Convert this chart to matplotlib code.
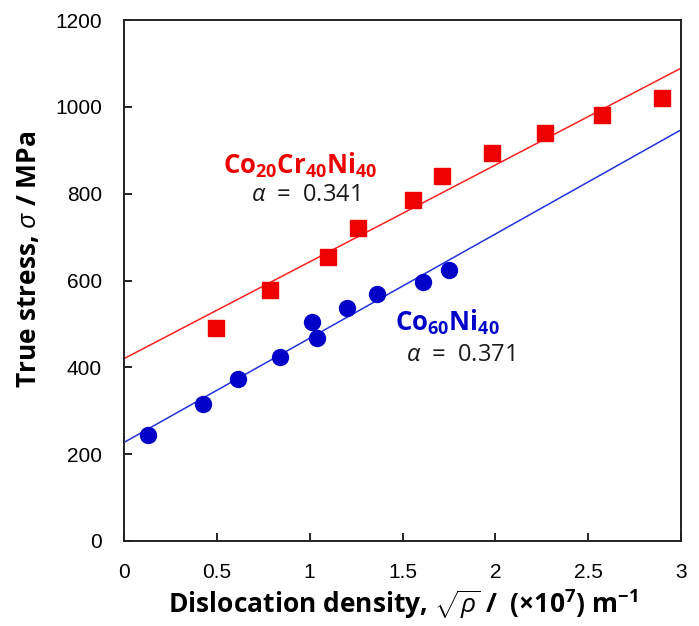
import matplotlib
matplotlib.use("Agg")
import matplotlib.pyplot as plt
import numpy as np

plt.rcParams['mathtext.fontset'] = 'custom'
plt.rcParams['mathtext.rm'] = 'Open Sans:bold'
plt.rcParams['mathtext.bf'] = 'Open Sans:bold'
plt.rcParams['mathtext.it'] = 'Open Sans:italic'

# Data
cocrni_x = [0.495, 0.786, 1.10, 1.26, 1.556, 1.712, 1.98, 2.267, 2.574, 2.897]
cocrni_y = [491, 578, 654, 721, 785, 841, 893, 940, 981, 1020]
coni_x = [0.13, 0.425, 0.614, 0.84, 1.012, 1.04, 1.20, 1.36, 1.61, 1.75]
coni_y = [244, 315, 373, 424, 504, 467, 537, 569, 596, 624]
# linear fits: (intercept, slope)
cocrni_fit = (420, 223)
coni_fit = (227, 240)
fit_x = [0, 3]
xticks = [0, 0.5, 1, 1.5, 2, 2.5, 3]
xticklabels = ["0", "0.5", "1", "1.5", "2", "2.5", "3"]
yticks = [0, 200, 400, 600, 800, 1000, 1200]

red = '#ee0000'
blue = '#0000c8'

fig = plt.figure(figsize=(6.99, 6.26), dpi=100)
ax = fig.add_axes([124/699, 1-541/626, 557/699, 521/626])

fx = np.array(fit_x, dtype=float)
ax.plot(fx, cocrni_fit[0] + cocrni_fit[1]*fx, color='#ff2020', lw=1.1, zorder=2)
ax.plot(fx, coni_fit[0] + coni_fit[1]*fx, color='#2233dd', lw=1.1, zorder=2)
ax.plot(cocrni_x, cocrni_y, 's', color=red, ms=11.5, mec=red, zorder=3)
ax.plot(coni_x, coni_y, 'o', color=blue, ms=11.5, mec=blue, zorder=3)

ax.set_xlim(0, 3)
ax.set_ylim(0, 1200)
ax.set_xticks(xticks)
ax.set_xticklabels(xticklabels)
ax.set_yticks(yticks)
for lab in ax.get_xticklabels() + ax.get_yticklabels():
    lab.set_fontfamily('Liberation Sans')
    lab.set_fontsize(15)
ax.tick_params(direction='in', length=6, width=1.2, pad=16, colors='black')
for s in ax.spines.values():
    s.set_linewidth(1.4)
    s.set_color('#222222')

ax.set_xlabel(r"Dislocation density, $\sqrt{\rho}$ /  (×10$^{7}$) m$^{-1}$",
              fontfamily='Open Sans', fontweight='bold', fontsize=19, labelpad=4)
ax.set_ylabel(r"True stress, $\sigma$ / MPa",
              fontfamily='Open Sans', fontweight='bold', fontsize=19)
ax.yaxis.set_label_coords(-0.147, 0.54)

ax.text(0.948, 866, r"Co$_{20}$Cr$_{40}$Ni$_{40}$", color=red, fontfamily='Open Sans',
        fontweight='bold', fontsize=18.5, ha='center', va='center')
ax.text(0.975, 797, r"$\alpha$  =  0.341", color='#1a1a1a', fontfamily='Open Sans',
        fontsize=17, ha='center', va='center')
ax.text(1.74, 504, r"Co$_{60}$Ni$_{40}$", color=blue, fontfamily='Open Sans',
        fontweight='bold', fontsize=18.5, ha='center', va='center')
ax.text(1.81, 428, r"$\alpha$  =  0.371", color='#1a1a1a', fontfamily='Open Sans',
        fontsize=17, ha='center', va='center')

fig.savefig("out.png", dpi=100)
